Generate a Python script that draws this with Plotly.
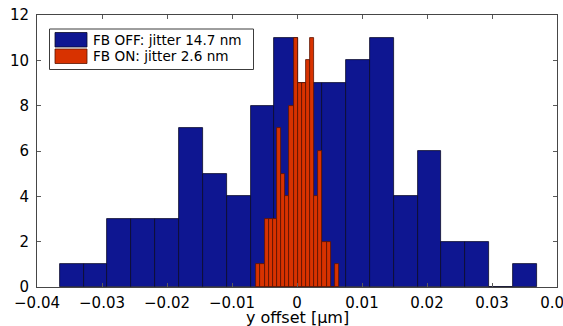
import numpy as np
import plotly.graph_objects as go

# ---- data ----
off_counts = [1, 1, 3, 3, 3, 7, 5, 4, 8, 11, 9, 9, 10, 11, 4, 6, 2, 2, 0, 1]
on_counts = [1, 1, 3, 3, 3, 7, 5, 4, 8, 11, 9, 9, 10, 11, 4, 6, 2, 2, 0, 1]
off_bin_start = -0.0365
off_bin_width = 0.00367
on_bin_start = -0.00626
on_bin_width = 0.000636
off_label = "FB OFF: jitter 14.7 nm"
on_label = "FB ON: jitter 2.6 nm"
x_ticks = [-0.04, -0.03, -0.02, -0.01, 0, 0.01, 0.02, 0.03, 0.04]
y_ticks = [0, 2, 4, 6, 8, 10, 12]
x_title = "y offset [µm]"

off_centers = off_bin_start + off_bin_width * (np.arange(len(off_counts)) + 0.5)
on_centers = on_bin_start + on_bin_width * (np.arange(len(on_counts)) + 0.5)

BLUE = "rgb(14,22,145)"
RED = "rgb(216,50,0)"
FONT = "DejaVu Sans"

W, H = 563, 326
L, R, T, B = 37, 557, 15, 287


def fx(px):
    return (px - L) / (R - L)


def fy(py):
    return (B - py) / (B - T)


fig = go.Figure()
fig.add_trace(go.Bar(x=off_centers, y=off_counts, width=off_bin_width,
                     marker=dict(color=BLUE, line=dict(color="rgb(10,10,40)", width=0.8)),
                     name=off_label, showlegend=False))
fig.add_trace(go.Bar(x=on_centers, y=on_counts, width=on_bin_width,
                     marker=dict(color=RED, line=dict(color="rgb(90,20,0)", width=0.8)),
                     name=on_label, showlegend=False))

axis_common = dict(showgrid=False, zeroline=False, showline=True, linecolor="rgb(70,70,70)",
                   linewidth=1, mirror="ticks", ticks="inside", ticklen=4,
                   tickcolor="rgb(90,90,90)", tickwidth=1, automargin=False,
                   ticklabeloverflow="allow",
                   tickfont=dict(family=FONT, size=15, color="black"))

fig.update_layout(
    width=W, height=H,
    margin=dict(l=L, r=W - R, t=T, b=H - B, pad=0, autoexpand=False),
    paper_bgcolor="white", plot_bgcolor="white",
    barmode="overlay", bargap=0,
    xaxis=dict(range=[-0.04, 0.04], tickvals=x_ticks, ticklabelstandoff=2, **axis_common),
    yaxis=dict(range=[0, 12], tickvals=y_ticks, ticklabelstandoff=4, **axis_common),
    font=dict(family=FONT, color="black"),
)

# x-axis title
fig.add_annotation(x=fx(297), y=fy(317), xref="paper", yref="paper", text=x_title,
                   showarrow=False, xanchor="center", yanchor="middle",
                   font=dict(family=FONT, size=16, color="black"))

# custom legend (MATLAB style)
fig.add_shape(type="rect", xref="paper", yref="paper",
              x0=fx(49.5), x1=fx(253.5), y0=fy(69.5), y1=fy(29),
              fillcolor="white", line=dict(color="rgb(60,60,60)", width=1), layer="above")
fig.add_shape(type="rect", xref="paper", yref="paper",
              x0=fx(55), x1=fx(87), y0=fy(47), y1=fy(32.5),
              fillcolor=BLUE, line=dict(color="rgb(10,10,40)", width=0.8), layer="above")
fig.add_shape(type="rect", xref="paper", yref="paper",
              x0=fx(55), x1=fx(87), y0=fy(63.5), y1=fy(49),
              fillcolor=RED, line=dict(color="rgb(90,20,0)", width=0.8), layer="above")
fig.add_annotation(x=fx(90.5), y=fy(39.5), xref="paper", yref="paper", text=off_label,
                   showarrow=False, xanchor="left", yanchor="middle",
                   font=dict(family=FONT, size=13.6, color="black"))
fig.add_annotation(x=fx(90.5), y=fy(56), xref="paper", yref="paper", text=on_label,
                   showarrow=False, xanchor="left", yanchor="middle",
                   font=dict(family=FONT, size=13.6, color="black"))

fig.write_html("out.html", config={"displayModeBar": False},
               post_script="document.body.style.margin='0';document.body.style.overflow='hidden';")
